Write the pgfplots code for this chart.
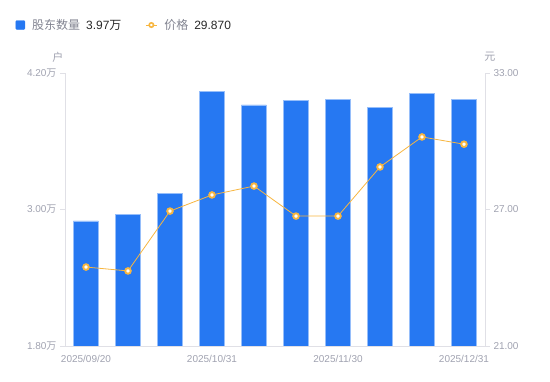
\documentclass[border=0pt]{standalone}
\usepackage{fontspec}
\setmainfont{Liberation Sans}
\newfontfamily\cjk{Noto Sans CJK SC}
\usepackage{pgfplots}
\pgfplotsset{compat=1.18}
\definecolor{barblue}{RGB}{38,120,242}
\definecolor{baredge}{RGB}{150,190,250}
\definecolor{lineorange}{RGB}{247,182,64}
\definecolor{axisgray}{RGB}{224,224,230}
\definecolor{ticktext}{RGB}{160,162,176}
\definecolor{legtext}{RGB}{130,132,145}
\definecolor{valtext}{RGB}{40,40,40}
\begin{document}
\begin{tikzpicture}[x=1pt,y=1pt]
\path[use as bounding box] (0,0) rectangle (550,381);
\begin{axis}[
  at={(65pt,35pt)}, anchor=south west, scale only axis,
  width=420pt, height=273pt,
  xmin=-0.5, xmax=9.5, ymin=1.8, ymax=4.2,
  axis x line*=bottom, axis y line*=left,
  axis line style={axisgray, line width=0.8pt},
  xtick={0,3,6,9},
  xticklabels={2025/09/20,2025/10/31,2025/11/30,2025/12/31},
  ytick={1.8,3,4.2},
  yticklabels={1.80{\cjk 万},3.00{\cjk 万},4.20{\cjk 万}},
  tick label style={font=\fontsize{10}{12}\selectfont, text=ticktext},
  xticklabel style={yshift=-1pt},
  major tick length=5pt,
  xtick style={draw=none},
  ytick style={axisgray, line width=0.8pt},
  tick align=outside,
  clip mode=individual,
]
\addplot[ybar, bar width=25pt, fill=barblue, draw=baredge, line width=0.6pt]
  coordinates {(0,2.90) (1,2.96) (2,3.145) (3,4.04) (4,3.92) (5,3.96) (6,3.97) (7,3.90) (8,4.02) (9,3.97)};
\node[font=\cjk\fontsize{11}{13}\selectfont, text=ticktext] at (rel axis cs:-0.0167,1.0586) {户};
\end{axis}
\begin{axis}[
  at={(65pt,35pt)}, anchor=south west, scale only axis,
  width=420pt, height=273pt,
  xmin=-0.5, xmax=9.5, ymin=21, ymax=33,
  axis x line=none, axis y line*=right,
  axis line style={axisgray, line width=0.8pt},
  ytick={21,27,33},
  yticklabels={21.00,27.00,33.00},
  tick label style={font=\fontsize{10}{12}\selectfont, text=ticktext},
  major tick length=5pt,
  ytick style={axisgray, line width=0.8pt},
  tick align=outside,
  clip mode=individual,
  legend style={at={(-0.125,1.2125)}, anchor=north west, draw=none, fill=none,
    font=\fontsize{12}{14}\selectfont, text=legtext,
    /tikz/every even column/.append style={column sep=22pt}},
  legend columns=2,
]
\addlegendimage{legend image code/.code={\fill[barblue, rounded corners=1pt] (0pt,-4.5pt) rectangle (9pt,4.5pt);}}
\addlegendentry{\hspace{5pt}{\cjk 股东数量}\hspace{6pt}{\color{valtext}3.97{\cjk 万}}}
\addlegendimage{legend image code/.code={\draw[lineorange, line width=0.8pt] (0pt,0pt) -- (11pt,0pt); \draw[lineorange, line width=1.6pt, fill=white] (5.5pt,0pt) circle (2.2pt);}}
\addlegendentry{\hspace{5pt}{\cjk 价格}\hspace{6pt}{\color{valtext}29.870}}
\addplot[lineorange, line width=0.8pt, mark=*, mark size=2.8pt,
  mark options={fill=white, draw=lineorange, line width=1.9pt}, forget plot]
  coordinates {(0,24.47) (1,24.30) (2,26.93) (3,27.64) (4,28.03) (5,26.71) (6,26.71) (7,28.87) (8,30.19) (9,29.87)};
\node[font=\cjk\fontsize{11}{13}\selectfont, text=ticktext] at (rel axis cs:1.0119,1.0586) {元};
\end{axis}
\end{tikzpicture}
\end{document}
